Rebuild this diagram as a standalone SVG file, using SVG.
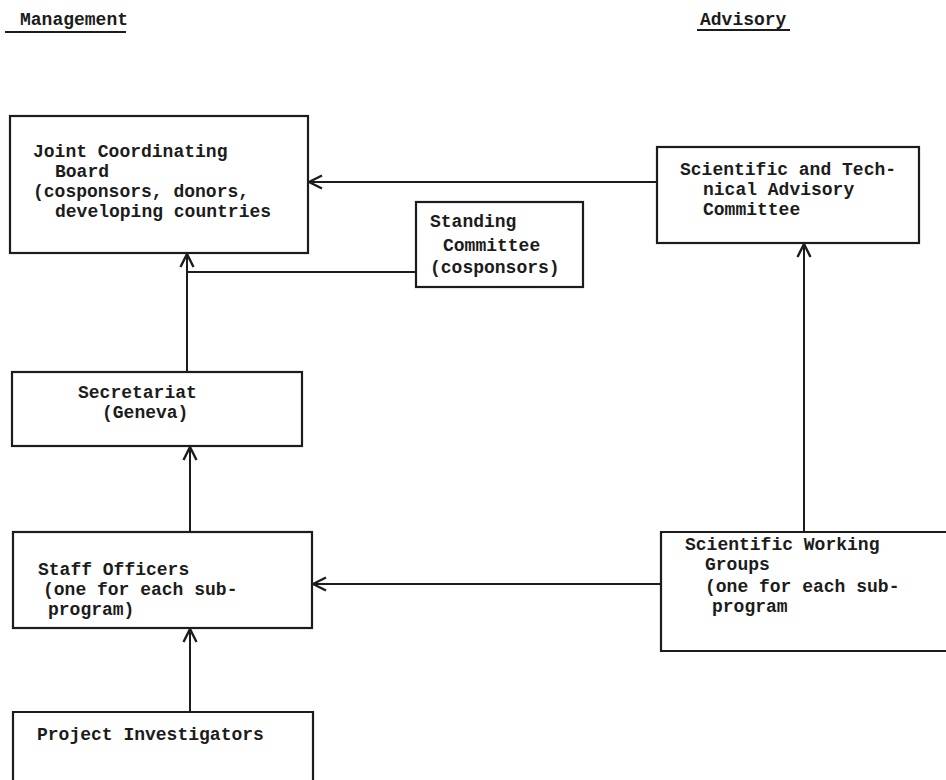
<svg xmlns="http://www.w3.org/2000/svg" width="946" height="780" viewBox="0 0 946 780">
  <style>
    .box { fill: none; stroke: #1c1c1c; stroke-width: 2.2; }
    .link { fill: none; stroke: #1c1c1c; stroke-width: 2; }
    text { font-family: "Liberation Mono", "Courier New", monospace; font-weight: bold; font-size: 18px; fill: #1c1c1c; }
  </style>
  <defs>
    <marker id="arrow" viewBox="0 0 16 16" refX="15" refY="8" markerWidth="16" markerHeight="16" markerUnits="userSpaceOnUse" orient="auto">
      <path d="M2,1.5 L15,8 L2,14.5" fill="none" stroke="#1c1c1c" stroke-width="2.4"/>
    </marker>
  </defs>
  <rect width="946" height="780" fill="#ffffff"/>

  <!-- column headings -->
  <g id="heading-management">
    <text x="20" y="25">Management</text>
    <line x1="5" y1="32" x2="126" y2="32" stroke="#1c1c1c" stroke-width="2"/>
  </g>
  <g id="heading-advisory">
    <text x="700" y="25">Advisory</text>
    <line x1="697" y1="30" x2="790" y2="30" stroke="#1c1c1c" stroke-width="2"/>
  </g>

  <!-- connectors -->
  <g id="connectors">
    <line class="link" x1="187" y1="372" x2="187" y2="254" marker-end="url(#arrow)"/>
    <line class="link" x1="187" y1="272" x2="416" y2="272"/>
    <line class="link" x1="657" y1="182" x2="309" y2="182" marker-end="url(#arrow)"/>
    <line class="link" x1="804" y1="532" x2="804" y2="244" marker-end="url(#arrow)"/>
    <line class="link" x1="190" y1="532" x2="190" y2="447" marker-end="url(#arrow)"/>
    <line class="link" x1="661" y1="584" x2="313" y2="584" marker-end="url(#arrow)"/>
    <line class="link" x1="190" y1="712" x2="190" y2="629" marker-end="url(#arrow)"/>
  </g>

  <g id="joint-coordinating-board">
    <rect class="box" x="10" y="116" width="298" height="137"/>
    <text x="33" y="157">Joint Coordinating</text>
    <text x="55" y="177">Board</text>
    <text x="33" y="197">(cosponsors, donors,</text>
    <text x="55" y="217">developing countries</text>
  </g>

  <g id="standing-committee">
    <rect class="box" x="416" y="202" width="167" height="85"/>
    <text x="430" y="227">Standing</text>
    <text x="443" y="251">Committee</text>
    <text x="430" y="273">(cosponsors)</text>
  </g>

  <g id="scientific-technical-advisory-committee">
    <rect class="box" x="657" y="147" width="262" height="96"/>
    <text x="680" y="175">Scientific and Tech-</text>
    <text x="703" y="195">nical Advisory</text>
    <text x="703" y="215">Committee</text>
  </g>

  <g id="secretariat">
    <rect class="box" x="12" y="372" width="290" height="74"/>
    <text x="78" y="398">Secretariat</text>
    <text x="102" y="418">(Geneva)</text>
  </g>

  <g id="staff-officers">
    <rect class="box" x="13" y="532" width="299" height="96"/>
    <text x="38" y="575">Staff Officers</text>
    <text x="43" y="595">(one for each sub-</text>
    <text x="48" y="615">program)</text>
  </g>

  <g id="scientific-working-groups">
    <path class="box" d="M950,532 H661 V651 H950"/>
    <text x="685" y="550">Scientific Working</text>
    <text x="705" y="570">Groups</text>
    <text x="705" y="592">(one for each sub-</text>
    <text x="712" y="612">program</text>
  </g>

  <g id="project-investigators">
    <path class="box" d="M13,790 V712 H313 V790"/>
    <text x="37" y="740">Project Investigators</text>
  </g>
</svg>
